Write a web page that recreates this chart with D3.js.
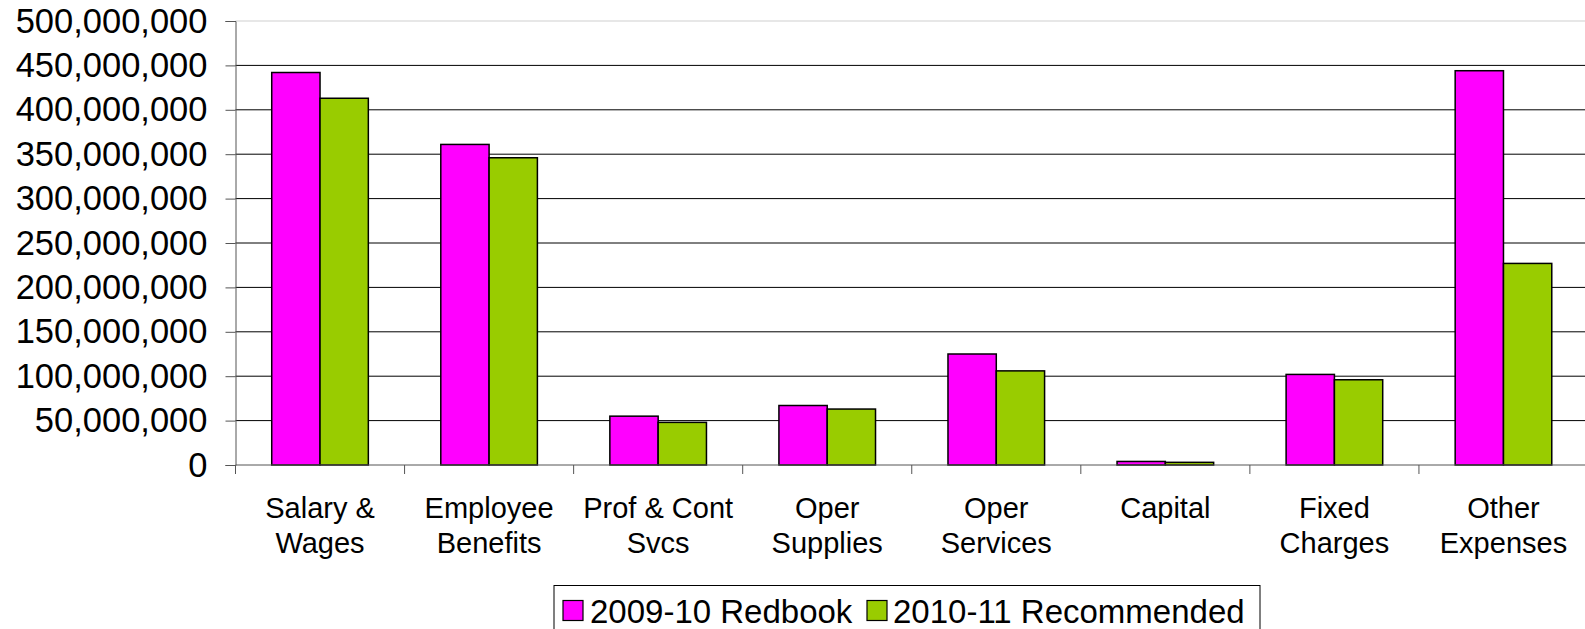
<!DOCTYPE html>
<html>
<head>
<meta charset="utf-8">
<script src="https://cdn.jsdelivr.net/npm/d3@7"></script>
<style>
  html, body { margin: 0; padding: 0; background: #fff; overflow: hidden; }
  svg { display: block; font-family: "Liberation Sans", Arial, sans-serif; }
</style>
</head>
<body>
<svg id="chart" width="1585" height="629"></svg>
<script>
const categories = [
  ["Salary &", "Wages"],
  ["Employee", "Benefits"],
  ["Prof & Cont", "Svcs"],
  ["Oper", "Supplies"],
  ["Oper", "Services"],
  ["Capital"],
  ["Fixed", "Charges"],
  ["Other", "Expenses"]
];
const seriesNames = ["2009-10 Redbook", "2010-11 Recommended"];
const redbook2009 = [442e6, 361e6, 55e6, 67e6, 125e6, 4e6, 102e6, 444e6];
const recommended2010 = [413e6, 346e6, 48e6, 63e6, 106e6, 3e6, 96e6, 227e6];
const yTicks = [0, 50e6, 100e6, 150e6, 200e6, 250e6, 300e6, 350e6, 400e6, 450e6, 500e6];
const colors = ["#FF00FF", "#99CC00"];

(function () {
const svg = d3.select("#chart");
const pLeft = 235.5, pRight = 1588, pTop = 21, pBottom = 465;

const x = d3.scaleBand().domain(d3.range(categories.length)).range([pLeft, pRight]).padding(0);
const y = d3.scaleLinear().domain([0, 500e6]).range([pBottom, pTop]);

const step = x.step();
const bw = step / 3.5;

// gridlines
svg.append("g").selectAll("line").data(yTicks.filter(d => d > 0)).join("line")
  .attr("x1", pLeft).attr("x2", pRight)
  .attr("y1", d => y(d)).attr("y2", d => y(d))
  .attr("stroke", d => d === 500e6 ? "#cfcfcf" : "#000")
  .attr("stroke-width", 1);

// bars
const series = [redbook2009, recommended2010];
series.forEach((vals, si) => {
  svg.append("g").selectAll("rect").data(vals).join("rect")
    .attr("x", (d, i) => x(i) + bw * (0.75 + si))
    .attr("y", d => y(d))
    .attr("width", bw)
    .attr("height", d => y(0) - y(d))
    .attr("fill", colors[si])
    .attr("stroke", "#000")
    .attr("stroke-width", 1.5);
});

// y axis
const yAxis = d3.axisLeft(y).tickValues(yTicks).tickSize(10).tickPadding(18).tickFormat(d3.format(","));
const gy = svg.append("g").attr("transform", `translate(${pLeft},0)`).call(yAxis);
gy.select(".domain").attr("stroke", "#555");
gy.selectAll(".tick line").attr("stroke", "#555");
gy.selectAll(".tick text").attr("font-size", "34.5px").attr("fill", "#000")
  .attr("font-family", "'Liberation Sans', Arial, sans-serif");

// x axis: ticks at category boundaries
const gx = svg.append("g");
gx.append("line").attr("x1", pLeft).attr("x2", pRight).attr("y1", pBottom).attr("y2", pBottom).attr("stroke", "#555");
gx.selectAll("line.tk").data(d3.range(categories.length + 1)).join("line").attr("class", "tk")
  .attr("x1", i => i < categories.length ? x(i) : pRight)
  .attr("x2", i => i < categories.length ? x(i) : pRight)
  .attr("y1", pBottom).attr("y2", pBottom + 9).attr("stroke", "#555");

const labels = gx.selectAll("text.cat").data(categories).join("text").attr("class", "cat")
  .attr("x", (d, i) => x(i) + step / 2)
  .attr("y", 508)
  .attr("text-anchor", "middle")
  .attr("font-size", "29px")
  .attr("fill", "#000");
labels.selectAll("tspan").data(d => d).join("tspan")
  .attr("x", function() { return d3.select(this.parentNode).attr("x"); })
  .attr("dy", (d, i) => i === 0 ? "0.35em" : "35px")
  .text(d => d);

// legend
const lg = svg.append("g");
lg.append("rect").attr("x", 554).attr("y", 585.5).attr("width", 706).attr("height", 60)
  .attr("fill", "#fff").attr("stroke", "#000").attr("stroke-width", 1);
const legendItems = [
  { sx: 563, tx: 590 },
  { sx: 867, tx: 893 }
];
seriesNames.forEach((name, i) => {
  lg.append("rect").attr("x", legendItems[i].sx).attr("y", 600.5).attr("width", 20).attr("height", 20)
    .attr("fill", colors[i]).attr("stroke", "#000").attr("stroke-width", 1.2);
  lg.append("text").attr("x", legendItems[i].tx).attr("y", 611)
    .attr("dy", "0.35em").attr("font-size", "33px").attr("fill", "#000").text(name);
});
})();
</script>
</body>
</html>
